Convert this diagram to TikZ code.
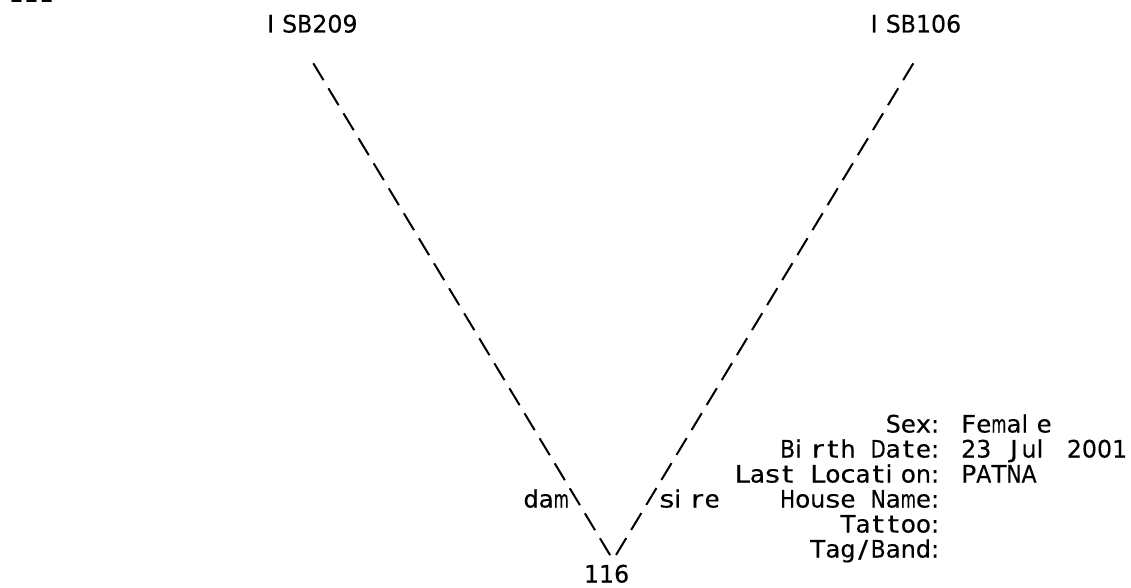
\documentclass[tikz,border=0pt]{standalone}
\usepackage{fontspec}
\setmainfont{DejaVu Sans}[FakeBold=0.2]
\usepackage{graphicx}
\newlength\cw \setlength\cw{15.09pt}
\newlength\gw
\makeatletter
\newcommand\onecell[1]{%
  \settowidth\gw{#1}%
  \ifdim\gw>\cw\relax
    \makebox[\cw][l]{\resizebox{\cw}{\height}{#1}}%
  \else
    \in@{#1}{ilIj1:~\textendash}%
    \ifin@
      \makebox[\cw][l]{#1}%
    \else
      \pgfmathsetmacro\cellsx{min(\cw/\gw,1.22)}%
      \makebox[\cw][c]{\scalebox{\cellsx}[1]{#1}}%
    \fi
  \fi}
\makeatother
\def\monoloop#1{\ifx#1\relax\else\onecell{#1}\expandafter\monoloop\fi}
\newcommand\mono[1]{\monoloop#1\relax}
\tikzset{
  txt/.style={anchor=base west, inner sep=0pt, outer sep=0pt, font=\fontsize{24pt}{25pt}\selectfont},
  link/.style={line width=2pt, dash pattern=on 19.7pt off 9.5pt}
}
\begin{document}
\begin{tikzpicture}[x=1pt,y=-1pt]
\fill[white] (0,0) rectangle (1131,588);
\useasboundingbox (0,0) rectangle (1131,588);
% pedigree nodes
\node[txt] (dashes) at (10.5,7.5) {\mono{\textendash\textendash\textendash}};
\node[txt] (isb209) at (267.03,32.5) {\mono{ISB209}};
\node[txt] (isb106) at (870.63,32.5) {\mono{ISB106}};
\node[txt] (n116) at (583.92,582.5) {\mono{116}};
\node[txt] (dam) at (523.56,507.5) {\mono{dam}};
\node[txt] (sire) at (659.37,507.5) {\mono{sire}};
% connectors
\coordinate (damtop) at (313.3,63.3);
\coordinate (dambot) at (610.2,555.3);
\coordinate (siretop) at (913.3,63.3);
\coordinate (sirebot) at (615.8,555.3);
\draw[link] (damtop) -- (dambot);
\draw[link] (siretop) -- (sirebot);
% info block
\node[txt] (lsex) at (885.72,432.5) {\mono{Sex:}};
\node[txt] (vsex) at (961.17,432.5) {\mono{Female}};
\node[txt] (lbirth) at (780.09,457.5) {\mono{Birth~Date:}};
\node[txt] (vbirth) at (961.17,457.5) {\mono{23~Jul~2001}};
\node[txt] (lloc) at (734.82,482.5) {\mono{Last~Location:}};
\node[txt] (vloc) at (961.17,482.5) {\mono{PATNA}};
\node[txt] (lhouse) at (780.09,507.5) {\mono{House~Name:}};
\node[txt] (ltattoo) at (840.45,532.5) {\mono{Tattoo:}};
\node[txt] (ltag) at (810.27,557.5) {\mono{Tag/Band:}};
\end{tikzpicture}
\end{document}
